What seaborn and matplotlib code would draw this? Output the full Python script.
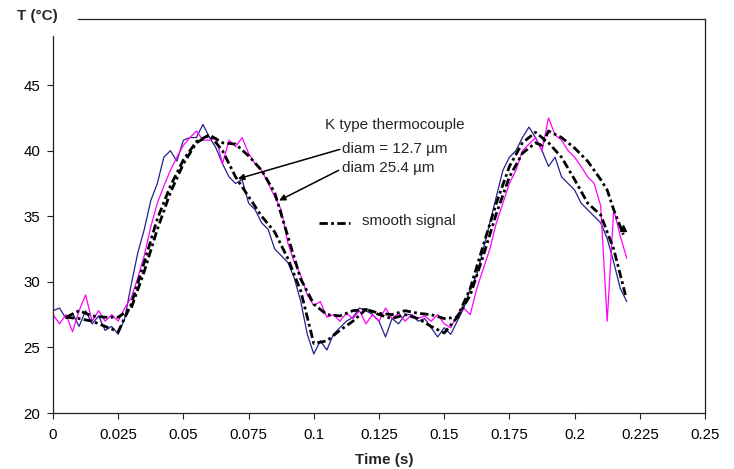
import numpy as np
import matplotlib
matplotlib.use("Agg")
import matplotlib.pyplot as plt
import seaborn as sns

# raw signals, sampled every 2.5 ms from 0 to 0.22 s
t_raw = np.linspace(0, 0.22, 89)
raw_12 = [27.8, 28.0, 27.2, 27.6, 26.6, 27.8, 26.8, 27.4, 26.3, 26.6,
          26.0, 27.2, 29.8, 32.2, 34.0, 36.2, 37.5, 39.5, 40.0, 39.2,
          40.8, 41.0, 41.0, 42.0, 41.0, 40.2, 39.0, 38.0, 37.5, 37.8,
          36.0, 35.5, 34.5, 34.0, 32.5, 32.0, 31.5, 30.3, 28.5, 26.0,
          24.5, 25.5, 24.8, 26.0, 26.5, 27.0, 27.3, 28.0, 27.8, 27.5,
          27.0, 25.8, 27.2, 26.8, 27.5, 27.5, 27.0, 27.2, 26.5, 25.8,
          26.5, 26.0, 27.0, 28.0, 29.5, 30.5, 32.5, 34.5, 36.5, 38.5,
          39.5, 40.0, 41.0, 41.8, 41.0, 40.0, 38.8, 39.5, 38.0, 37.5,
          37.0, 36.0, 35.5, 35.0, 34.5, 33.3, 31.5, 29.5, 28.5]
raw_25 = [27.5, 26.8, 27.5, 26.2, 27.8, 29.0, 27.0, 27.8, 27.0, 27.5,
          27.0, 28.0, 28.8, 30.3, 32.0, 34.2, 36.0, 37.3, 38.5, 39.5,
          40.4, 41.0, 41.5, 40.8, 40.8, 41.0, 39.0, 40.8, 40.3, 41.0,
          39.8, 39.0, 38.5, 37.5, 36.5, 35.5, 33.0, 31.5, 30.5, 29.0,
          28.2, 28.5, 27.3, 27.5, 27.0, 27.6, 27.2, 27.8, 26.8, 27.5,
          27.0, 28.0, 27.2, 27.6, 27.0, 27.5, 27.2, 27.4, 27.0, 27.5,
          26.8, 26.5, 27.5, 28.0, 27.5, 29.5, 31.0, 32.5, 34.5, 36.0,
          37.5, 38.5, 40.0, 40.5, 41.0, 40.0, 42.5, 41.2, 40.8, 40.0,
          39.5, 38.8, 38.0, 37.5, 35.8, 27.0, 35.5, 33.5, 31.8]

# smooth signals
t_s12 = [0.005, 0.01, 0.015, 0.02, 0.025, 0.03, 0.035, 0.04, 0.045, 0.05,
         0.055, 0.06, 0.065, 0.07, 0.075, 0.08, 0.085, 0.09, 0.095, 0.1,
         0.105, 0.11, 0.115, 0.12, 0.125, 0.13, 0.135, 0.14, 0.145, 0.15,
         0.155, 0.16, 0.165, 0.17, 0.175, 0.18, 0.185, 0.19, 0.195, 0.2,
         0.205, 0.21, 0.215, 0.2195]
smooth_12 = [27.3, 27.2, 27.0, 26.6, 26.2, 28.3, 31.5, 34.8, 37.3, 39.3,
             40.7, 41.2, 40.0, 38.0, 36.5, 35.0, 33.8, 31.8, 29.3, 25.3,
             25.5, 26.3, 27.0, 27.9, 27.5, 27.2, 27.5, 27.2, 26.6, 26.1,
             27.3, 29.5, 32.8, 36.0, 38.8, 40.6, 41.4, 40.6, 39.5, 37.8,
             36.0, 35.1, 32.5, 29.0]
t_s25 = [0.005, 0.01, 0.015, 0.02, 0.025, 0.03, 0.035, 0.04, 0.045, 0.05,
         0.055, 0.06, 0.065, 0.07, 0.075, 0.08, 0.085, 0.09, 0.095, 0.1,
         0.105, 0.11, 0.115, 0.12, 0.125, 0.13, 0.135, 0.14, 0.145, 0.15,
         0.155, 0.16, 0.165, 0.17, 0.175, 0.18, 0.185, 0.1875, 0.19, 0.195,
         0.2, 0.205, 0.21, 0.2125, 0.215, 0.2187]
smooth_25 = [27.3, 27.8, 27.4, 27.3, 27.3, 28.0, 30.8, 34.0, 36.8, 39.0,
             40.6, 41.2, 40.6, 40.5, 39.6, 38.5, 36.8, 33.5, 30.2, 28.3,
             27.5, 27.4, 27.8, 27.9, 27.6, 27.5, 27.8, 27.6, 27.5, 27.2,
             27.3, 29.0, 32.0, 35.2, 38.0, 39.8, 40.6, 40.4, 41.5, 41.0,
             40.2, 39.2, 37.8, 37.0, 35.5, 33.6]

xticks = [0, 0.025, 0.05, 0.075, 0.1, 0.125, 0.15, 0.175, 0.2, 0.225, 0.25]
xlabels = ["0", "0.025", "0.05", "0.075", "0.1", "0.125", "0.15", "0.175", "0.2", "0.225", "0.25"]
yticks = [20, 25, 30, 35, 40, 45]

sns.set_style("white")
plt.rcParams["font.family"] = ["Liberation Sans", "DejaVu Sans"]

W, H = 734, 469
fig = plt.figure(figsize=(W / 100, H / 100), dpi=100)
ax = fig.add_axes([53 / W, (H - 413) / H, 652 / W, 393.5 / H])

dashdot = (0, (3, 1.2, 1, 1.2))
sns.lineplot(x=t_raw, y=raw_12, ax=ax, color="#22228c", lw=0.9)
sns.lineplot(x=t_raw, y=raw_25, ax=ax, color="#ff00ff", lw=0.9)
sns.lineplot(x=t_s12, y=smooth_12, ax=ax, color="black", lw=2.0, linestyle=dashdot)
sns.lineplot(x=t_s25, y=smooth_25, ax=ax, color="black", lw=2.0, linestyle=dashdot)
ax.plot(t_s25[-1], smooth_25[-1] + 0.5, marker="^", color="black", ms=4)

ax.set_xlim(0, 0.25)
ax.set_ylim(20, 50)
ax.set_xticks(xticks)
ax.set_xticklabels(xlabels)
ax.set_yticks(yticks)
ax.tick_params(axis="both", direction="out", length=4, width=0.8, colors="#222222",
               labelsize=10.8, labelcolor="black", pad=5)
ax.tick_params(axis="x", pad=7)
ax.tick_params(left=True, bottom=True)

for s in ["left", "bottom", "right", "top"]:
    ax.spines[s].set_color("#222222")
    ax.spines[s].set_linewidth(0.9)
ax.spines["left"].set_bounds(20, 48.75)
ax.spines["top"].set_bounds(0.0096, 0.25)

# annotations
fs = 11
ax.text(0.1043, 41.95, "K type thermocouple", fontsize=fs, va="center")
ax.text(0.1110, 40.1, "diam = 12.7 µm", fontsize=fs, va="center")
ax.text(0.1110, 38.7, "diam 25.4 µm", fontsize=fs, va="center")
arrow = dict(arrowstyle="-|>", color="black", lw=1.1, mutation_scale=9,
             shrinkA=0, shrinkB=0)
ax.annotate("", xy=(0.0709, 37.85), xytext=(0.1100, 40.1), arrowprops=arrow)
ax.annotate("", xy=(0.0867, 36.2), xytext=(0.1095, 38.5), arrowprops=arrow)
ax.plot([0.1020, 0.1140], [34.45, 34.45], color="black", lw=2.0, linestyle=dashdot)
ax.text(0.1185, 34.6, "smooth signal", fontsize=fs, va="center")

fig.text(17 / W, 1 - 16 / H, "T (°C)", fontsize=11, fontweight="bold", va="center", ha="left")
fig.text(384 / W, 1 - 460 / H, "Time (s)", fontsize=11, fontweight="bold", va="center", ha="center")

fig.savefig("out.png", dpi=100)
